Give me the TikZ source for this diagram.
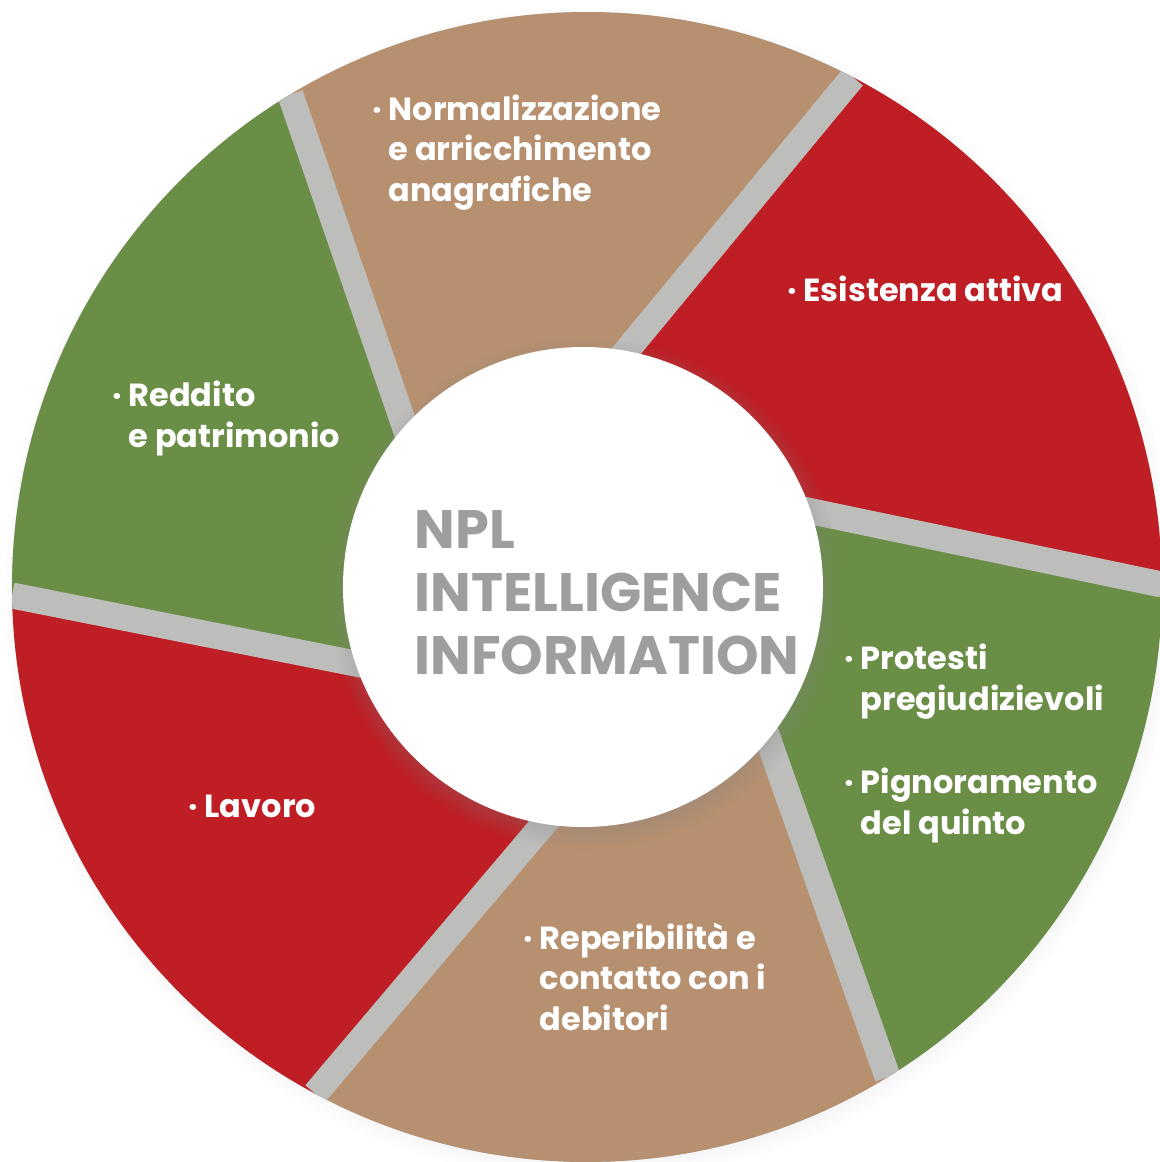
\documentclass[tikz,border=0pt]{standalone}
\usepackage{fontspec}
\setmainfont{Poppins}
\usepackage{xcolor}
\usetikzlibrary{calc}
\usetikzlibrary{fadings}
\usetikzlibrary{shadows}

\definecolor{npl green}{HTML}{6B8E47}
\definecolor{npl brown}{HTML}{B79070}
\definecolor{npl red}{HTML}{BE1E24}
\definecolor{npl gap}{HTML}{BDBDBB}
\definecolor{npl title}{HTML}{9E9E9E}

\newcommand{\bul}{\llap{·\ }}

\tikzset{
  seg label/.style={text=white, font=\bfseries\fontsize{9.1}{11.4}\selectfont,
    align=left, inner sep=0pt, anchor=base west},
  title label/.style={text=npl title, font=\bfseries\fontsize{15.4}{17.9}\selectfont,
    align=left, inner sep=0pt, anchor=base west},
  gap line/.style={line width=0.26cm, draw=npl gap},
}

\begin{document}
\begin{tikzpicture}
        \useasboundingbox[fill=white] (-5.87,-5.75) rectangle (5.72,5.87);
        
        % Ring under the segments, with its soft shadow
        \node[circle, minimum size=11.5cm, inner sep=0pt, fill=npl gap,
          circular drop shadow={shadow xshift=0.03cm, shadow yshift=-0.06cm,
          shadow scale=1.02, opacity=0.3}] (ring) at (0,0) {};
        
        % Outer ends of the six gaps
        \coordinate (o0) at (180.85:5.75);
        \coordinate (o1) at (121.06:5.75);
        \coordinate (o2) at (62.46:5.75);
        \coordinate (o3) at (0.24:5.75);
        \coordinate (o4) at (-58.47:5.75);
        \coordinate (o5) at (-118.21:5.75);
        
        % Foot points of the gaps (they all touch a small circle)
        \coordinate (t0) at (258.85:1.2);
        \coordinate (t1) at (199.06:1.2);
        \coordinate (t2) at (140.46:1.2);
        \coordinate (t3) at (78.24:1.2);
        \coordinate (t4) at (19.53:1.2);
        \coordinate (t5) at (-40.21:1.2);
        
        % Inner corners of the segments
        \coordinate (i0) at (intersection of o0--t0 and o1--t1);
        \coordinate (i1) at (intersection of o1--t1 and o2--t2);
        \coordinate (i2) at (intersection of o2--t2 and o3--t3);
        \coordinate (i3) at (intersection of o3--t3 and o4--t4);
        \coordinate (i4) at (intersection of o4--t4 and o5--t5);
        \coordinate (i5) at (intersection of o5--t5 and o0--t0);
        
        % Drawing the six segments
        \fill[npl green] (i0) -- (o0) arc[start angle=180.85, end angle=121.06, radius=5.75] -- cycle;%
        \fill[npl brown] (i1) -- (o1) arc[start angle=121.06, end angle=62.46, radius=5.75] -- cycle;%
        \fill[npl red] (i2) -- (o2) arc[start angle=62.46, end angle=0.24, radius=5.75] -- cycle;%
        \fill[npl green] (i3) -- (o3) arc[start angle=0.24, end angle=-58.47, radius=5.75] -- cycle;%
        \fill[npl brown] (i4) -- (o4) arc[start angle=-58.47, end angle=-118.21, radius=5.75] -- cycle;%
        \fill[npl red] (i5) -- (o5) arc[start angle=-118.21, end angle=-179.15, radius=5.75] -- cycle;%
        
        % Drawing the gaps
        \begin{scope}
          \clip (0,0) circle (5.75);
          \draw[gap line] (o0) -- (t0);%
          \draw[gap line] (o1) -- (t1);%
          \draw[gap line] (o2) -- (t2);%
          \draw[gap line] (o3) -- (t3);%
          \draw[gap line] (o4) -- (t4);%
          \draw[gap line] (o5) -- (t5);%
        \end{scope}
        
        % White hub in the middle
        \node[circle, minimum size=4.8cm, inner sep=0pt, fill=white,
          circular drop shadow={shadow xshift=0.02cm, shadow yshift=-0.06cm,
          shadow scale=1.07, opacity=0.45}] (hub) at (-0.04,0) {};
        % (labels sit on the baseline of their last line)
        \node[title label] (title) at (-1.73,-0.87) {NPL\\INTELLIGENCE\\INFORMATION};
        
        % Labels of the segments
        \node[seg label] (reddito) at (-4.59,1.40) {\bul Reddito\\e patrimonio};
        \node[seg label] (norm) at (-1.99,3.86) {\bul Normalizzazione\\e arricchimento\\anagrafiche};
        \node[seg label] (esistenza) at (2.16,2.86) {\bul Esistenza attiva};
        \node[seg label] (protesti) at (2.73,-1.23) {\bul Protesti\\pregiudizievoli};
        \node[seg label] (pignoramento) at (2.73,-2.47) {\bul Pignoramento\\del quinto};
        \node[seg label] (reperibilita) at (-0.48,-4.43) {\bul Reperibilità e\\contatto con i\\debitori};
        \node[seg label] (lavoro) at (-3.83,-2.30) {\bul Lavoro};
\end{tikzpicture}
\end{document}
